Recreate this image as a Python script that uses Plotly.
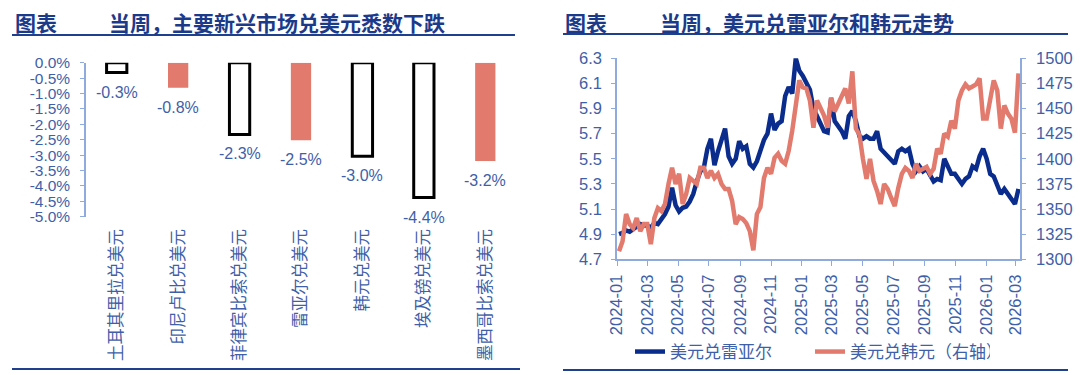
import pandas as pd
import plotly.graph_objects as go

# ---------------- Left chart data ----------------
categories = ["土耳其里拉兑美元", "印尼卢比兑美元", "菲律宾比索兑美元", "雷亚尔兑美元",
              "韩元兑美元", "埃及镑兑美元", "墨西哥比索兑美元"]
weekly_change = [-0.32, -0.81, -2.33, -2.52, -3.04, -4.38, -3.19]
highlight = [False, True, False, True, False, False, True]
bar_y_ticks = [0, -0.5, -1.0, -1.5, -2.0, -2.5, -3.0, -3.5, -4.0, -4.5, -5.0]
bar_y_labels = ["0.0%", "-0.5%", "-1.0%", "-1.5%", "-2.0%", "-2.5%", "-3.0%",
                "-3.5%", "-4.0%", "-4.5%", "-5.0%"]

# ---------------- Right chart data (weekly) ----------------
usd_brl = [4.90, 4.91, 4.93, 4.92, 4.94, 4.96, 4.98, 4.97, 4.97, 4.95,
           4.99, 4.98, 5.02, 5.06, 5.12, 5.27, 5.13, 5.08, 5.11, 5.12,
           5.16, 5.22, 5.32, 5.40, 5.43, 5.58, 5.66, 5.45, 5.56, 5.65,
           5.74, 5.52, 5.46, 5.50, 5.64, 5.58, 5.60, 5.46, 5.43, 5.48,
           5.58, 5.65, 5.70, 5.86, 5.73, 5.78, 5.80, 6.00, 6.07, 6.02,
           6.30, 6.20, 6.16, 6.10, 6.05, 5.90, 5.84, 5.78, 5.72, 5.71,
           5.98, 5.80, 5.76, 5.72, 5.66, 5.84, 5.88, 5.80, 5.68, 5.66,
           5.68, 5.66, 5.66, 5.72, 5.58, 5.55, 5.52, 5.48, 5.46, 5.56,
           5.58, 5.56, 5.58, 5.46, 5.40, 5.44, 5.40, 5.42, 5.36, 5.32,
           5.34, 5.33, 5.50, 5.44, 5.38, 5.38, 5.34, 5.30, 5.34, 5.36,
           5.44, 5.42, 5.52, 5.58, 5.50, 5.38, 5.36, 5.28, 5.22, 5.26,
           5.22, 5.18, 5.14, 5.26]
usd_krw = [1308, 1318, 1345, 1335, 1331, 1341, 1328, 1335, 1335, 1315,
           1341, 1351, 1348, 1355, 1375, 1391, 1375, 1385, 1355, 1365,
           1381, 1378, 1375, 1391, 1391, 1381, 1388, 1381, 1385, 1375,
           1370, 1370, 1358, 1335, 1342, 1340, 1336, 1328, 1309, 1345,
           1352, 1381, 1391, 1385, 1401, 1405, 1398, 1395, 1408, 1428,
           1455, 1478, 1471, 1470, 1458, 1431, 1458, 1451, 1443, 1431,
           1461, 1447, 1455, 1463, 1470, 1455, 1487, 1430, 1424, 1400,
           1380, 1400, 1378, 1368, 1355, 1375, 1370, 1361, 1353, 1371,
           1385, 1391, 1388, 1381, 1395, 1388, 1390, 1392, 1385, 1390,
           1410, 1405, 1425, 1422, 1438, 1430, 1458, 1468, 1474, 1470,
           1472, 1474, 1480, 1440, 1440, 1457, 1478, 1468, 1430, 1453,
           1445, 1440, 1426, 1485]
dates = pd.date_range("2024-01-05", periods=len(usd_brl), freq="7D")
date_ticks = ["2024-01-01", "2024-03-01", "2024-05-01", "2024-07-01", "2024-09-01",
              "2024-11-01", "2025-01-01", "2025-03-01", "2025-05-01", "2025-07-01",
              "2025-09-01", "2025-11-01", "2026-01-01", "2026-03-01"]
date_labels = ["2024-01", "2024-03", "2024-05", "2024-07", "2024-09", "2024-11",
               "2025-01", "2025-03", "2025-05", "2025-07", "2025-09", "2025-11",
               "2026-01", "2026-03"]

# ---------------- Styles ----------------
W, H = 1080, 375
FONT = "Liberation Sans, Arial, Noto Sans CJK SC, sans-serif"
CJK = "Noto Sans CJK SC, sans-serif"
TITLE_C = "#1C3A8A"
TICK_C = "#3F5FA8"
AXIS_C = "#8FAADC"
RED = "#E27A6D"
NAVY = "#0A2C8C"


def px_x(x):
    return x / W


def px_y(y):
    return 1 - y / H


fig = go.Figure()

# hollow / filled bars
fig.add_trace(go.Bar(
    x=categories, y=weekly_change,
    marker=dict(color=[RED if h else "rgba(255,255,255,0)" for h in highlight],
                line=dict(color=["rgba(0,0,0,0)" if h else "#000000" for h in highlight],
                          width=3)),
    width=0.33, xaxis="x", yaxis="y", showlegend=False, hoverinfo="skip"))

# data labels under the bars
for c, v in zip(categories, weekly_change):
    fig.add_annotation(x=c, y=v, xref="x", yref="y", text=f"{v:.1f}%",
                       showarrow=False, yanchor="top", yshift=-9,
                       font=dict(family=FONT, size=16, color=TICK_C))

# line chart
fig.add_trace(go.Scatter(x=dates, y=usd_brl, mode="lines", name="美元兑雷亚尔",
                         line=dict(color=NAVY, width=4.5), xaxis="x3", yaxis="y3"))
fig.add_trace(go.Scatter(x=dates, y=usd_krw, mode="lines", name="美元兑韩元（右轴）",
                         line=dict(color=RED, width=4.5), xaxis="x3", yaxis="y4"))

bar_dom_x = [px_x(86), px_x(516)]
bar_dom_y = [px_y(216.7), px_y(62.7)]
ln_dom_x = [px_x(617), px_x(1020)]
ln_dom_y = [px_y(259.3), px_y(58.3)]

fig.update_layout(
    width=W, height=H, margin=dict(l=0, r=0, t=0, b=0, autoexpand=False),
    paper_bgcolor="white", plot_bgcolor="white",
    font=dict(family=FONT, size=16, color=TICK_C),
    xaxis=dict(domain=bar_dom_x, anchor="y", type="category", range=[-0.5, 6.5],
               tickangle=-90, ticks="", showline=False, showgrid=False,
               tickfont=dict(family=CJK, size=16.5, color=TICK_C),
               ticklabelstandoff=8, automargin=False),
    xaxis2=dict(domain=bar_dom_x, anchor="y", overlaying="x", side="top", type="linear",
                range=[-0.5, 6.5], tickvals=[-0.5, 0.5, 1.5, 2.5, 3.5, 4.5, 5.5, 6.5],
                showticklabels=False, ticks="inside", ticklen=5, tickcolor=AXIS_C,
                showline=True, linecolor=AXIS_C, linewidth=1.5, showgrid=False,
                zeroline=False, automargin=False),
    yaxis=dict(domain=bar_dom_y, anchor="x", range=[-5, 0], tickvals=bar_y_ticks,
               ticktext=bar_y_labels, ticks="outside", ticklen=4, tickcolor=AXIS_C,
               showline=True, linecolor=AXIS_C, linewidth=1.5, showgrid=False,
               zeroline=False, tickfont=dict(family=FONT, size=15.5, color=TICK_C),
               ticklabelstandoff=7, automargin=False),
    xaxis3=dict(domain=ln_dom_x, anchor="y3", type="date",
                range=["2024-01-01", "2026-03-09"], tickvals=date_ticks,
                ticktext=date_labels, tickangle=-90, ticks="outside", ticklen=5,
                tickcolor=AXIS_C, showline=True, linecolor=AXIS_C, linewidth=1.5,
                showgrid=False, zeroline=False, automargin=False, ticklabelstandoff=2,
                tickfont=dict(family=FONT, size=16.5, color=TICK_C)),
    yaxis3=dict(domain=ln_dom_y, anchor="x3", range=[4.7, 6.3], tick0=4.7, dtick=0.2,
                tickformat=".1f", ticks="outside", ticklen=4, tickcolor=AXIS_C,
                showline=True, linecolor=AXIS_C, linewidth=1.5, showgrid=False,
                zeroline=False, automargin=False, ticklabelstandoff=6,
                tickfont=dict(family=FONT, size=16.5, color=TICK_C)),
    yaxis4=dict(domain=ln_dom_y, anchor="x3", overlaying="y3", side="right",
                range=[1300, 1500], tick0=1300, dtick=25, ticks="outside", ticklen=4,
                tickcolor=AXIS_C, showline=True, linecolor=AXIS_C, linewidth=1.5,
                showgrid=False, zeroline=False, automargin=False, ticklabelstandoff=7,
                tickfont=dict(family=FONT, size=16.5, color=TICK_C)),
    showlegend=True,
    legend=dict(orientation="h", x=px_x(630), y=px_y(352), xanchor="left",
                yanchor="middle", font=dict(family=CJK, size=17, color=TICK_C),
                bgcolor="rgba(0,0,0,0)", entrywidthmode="pixels", entrywidth=135),
)

# titles
for x0, txt in [(13, "图表"), (107, "当周，主要新兴市场兑美元悉数下跌"),
                (563, "图表"), (658, "当周，美元兑雷亚尔和韩元走势")]:
    fig.add_annotation(x=px_x(x0), y=px_y(22), xref="paper", yref="paper",
                       text=f"<b>{txt}</b>", showarrow=False, xanchor="left",
                       yanchor="middle", font=dict(family=CJK, size=21, color=TITLE_C))

# rules under titles and at the bottom
for x0, x1, y in [(12, 515, 35), (563, 1068, 34), (12, 520, 369), (563, 1068, 370)]:
    fig.add_shape(type="line", xref="paper", yref="paper", x0=px_x(x0), x1=px_x(x1),
                  y0=px_y(y), y1=px_y(y), line=dict(color="#1F3F8F", width=2))

fig.write_html("out.html", config={"displayModeBar": False},
               post_script="document.body.style.margin='0';document.body.style.padding='0';")
